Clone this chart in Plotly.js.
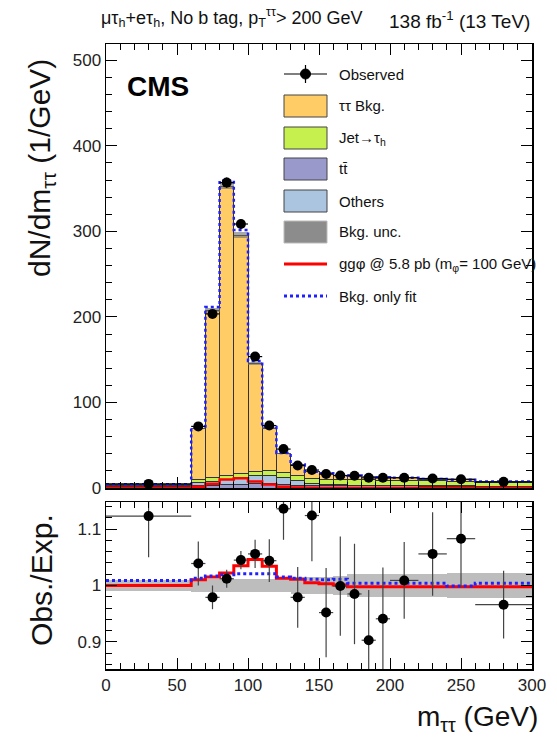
<!DOCTYPE html>
<html>
<head>
<meta charset="utf-8">
<script src="https://cdn.plot.ly/plotly-3.0.1.min.js"></script>
<style>html,body{margin:0;padding:0;background:#fff;}#chart{width:557px;height:738px;}</style>
</head>
<body>
<div id="chart"></div>
<script>
// ---- data (per GeV) ----
const edges = [0,60,70,80,90,100,110,120,130,140,150,160,170,180,190,200,220,240,260,300];
const observed = [4.8, 72, 203.5, 357, 308.6, 153.6, 73, 45.5, 26.4, 21, 16.3, 14.6, 14.3, 11.9, 11.9, 11.9, 11.1, 10.3, 7.2];
const observedErr = [0.28, 2.7, 4.5, 6.0, 5.6, 3.9, 2.7, 2.1, 1.6, 1.5, 1.3, 1.2, 1.2, 1.1, 1.1, 0.75, 0.75, 0.7, 0.42];
const tautauBkg = [0.7, 59.9, 196.1, 338.6, 278.7, 125.8, 49.6, 22.3, 12.9, 7.3, 6.6, 4.7, 4.7, 3.7, 3.3, 2.9, 2.2, 1.8, 0.65];
const jetFakes = [0.8, 3.6, 3.9, 3.9, 4.3, 4.7, 5.4, 5.5, 5.8, 6.0, 6.2, 6.3, 6.3, 6.3, 6.2, 6.0, 5.6, 5.3, 4.8];
const ttbar = [2.0, 3.0, 3.5, 4.0, 4.5, 5.0, 5.0, 4.5, 3.5, 3.0, 3.0, 2.8, 2.7, 2.6, 2.5, 2.4, 2.2, 2.0, 1.7];
const others = [0.8, 3.0, 4.5, 6.5, 8.0, 10.0, 10.0, 8.0, 5.0, 2.5, 1.2, 0.8, 0.7, 0.6, 0.6, 0.5, 0.5, 0.4, 0.3];
const bkgUncRel = [0.009, 0.011, 0.011, 0.011, 0.011, 0.011, 0.011, 0.012, 0.015, 0.015, 0.015, 0.016, 0.02, 0.02, 0.02, 0.02, 0.02, 0.023, 0.023];
const signal = [0, 1.5, 5, 10, 11.5, 7.5, 4, 1.5, 0.5, 0.2, 0, 0, 0, 0, 0, 0, 0, 0, 0];
const bkgOnlyFit = [4.35, 70.5, 211.5, 359.5, 301.5, 148.5, 71.3, 40.9, 27.6, 19.0, 17.2, 14.8, 14.5, 13.25, 12.65, 11.85, 10.55, 9.5, 7.48];
// ratio panel
const ratioObs = [1.123, 1.039, 0.979, 1.012, 1.045, 1.056, 1.044, 1.136, 0.979, 1.124, 0.952, 0.999, 0.985, 0.903, 0.941, 1.009, 1.056, 1.083, 0.966];
const ratioErr = [0.073, 0.039, 0.021, 0.016, 0.016, 0.025, 0.038, 0.055, 0.054, 0.081, 0.079, 0.088, 0.089, 0.089, 0.091, 0.068, 0.074, 0.086, 0.06];
const ratioSig = [1.0, 1.01, 1.015, 1.022, 1.035, 1.046, 1.034, 1.013, 1.011, 1.005, 1.003, 1.001, 0.998, 0.998, 0.998, 0.998, 0.998, 0.998, 0.998];
const ratioFit = [1.009, 1.013, 1.017, 1.019, 1.021, 1.021, 1.021, 1.015, 1.013, 1.011, 1.010, 1.011, 1.004, 1.004, 1.004, 1.004, 1.004, 0.999, 1.004];
const xTicks = [0, 50, 100, 150, 200, 250, 300];

// ---- derived geometry ----
const n = edges.length - 1;
const centers = [], widths = [], halfW = [];
for (let i = 0; i < n; i++) { centers.push((edges[i]+edges[i+1])/2); widths.push(edges[i+1]-edges[i]); halfW.push((edges[i+1]-edges[i])/2); }
const total = tautauBkg.map((v,i)=>v+jetFakes[i]+ttbar[i]+others[i]);
function steps(vals){ const xs=[], ys=[]; for(let i=0;i<n;i++){xs.push(edges[i]);ys.push(vals[i]);} xs.push(edges[n]); ys.push(vals[n-1]); return {x:xs,y:ys}; }

const F = "Liberation Sans Narrow, Arial Narrow, Liberation Sans, Arial, sans-serif";
const FW = "Liberation Sans, Arial, sans-serif";
const C = {tt:'#FFCC66', jet:'#C6F04E', ttbar:'#9999CC', oth:'#ABC4E0', unc:'#8C8C8C', sig:'#FF0000', fit:'#2020FF'};
const outline = {color:'#333333', width:1};

const traces = [];
function stackBar(vals, color){ return {type:'bar', x:centers, y:vals, width:widths, xaxis:'x', yaxis:'y', marker:{color:color, line:outline}, showlegend:false, hoverinfo:'skip'}; }
traces.push(stackBar(ttbar, C.ttbar));
traces.push(stackBar(others, C.oth));
traces.push(stackBar(jetFakes, C.jet));
traces.push(stackBar(tautauBkg, C.tt));
// main uncertainty band
traces.push({type:'bar', x:centers, width:widths, base: total.map((t,i)=>t*(1-bkgUncRel[i])), y: total.map((t,i)=>2*t*bkgUncRel[i]), xaxis:'x', yaxis:'y', marker:{color:'rgba(110,110,110,0.6)', line:{width:0}}, showlegend:false});
const fitStep = steps(bkgOnlyFit);
traces.push({type:'scatter', mode:'lines', x:fitStep.x, y:fitStep.y, line:{shape:'hv', color:C.fit, width:2.5, dash:'dot'}, xaxis:'x', yaxis:'y', showlegend:false});
const sigStep = steps(signal);
traces.push({type:'scatter', mode:'lines', x:sigStep.x, y:sigStep.y, line:{shape:'hv', color:C.sig, width:2.5}, xaxis:'x', yaxis:'y', showlegend:false, cliponaxis:false});
traces.push({type:'scatter', mode:'markers', x:centers, y:observed, marker:{color:'#000', size:10}, error_y:{type:'data', array:observedErr, color:'#000', thickness:1.2, width:0}, error_x:{type:'data', array:halfW, color:'#000', thickness:1.2, width:0}, xaxis:'x', yaxis:'y', showlegend:false});

// ratio panel
traces.push({type:'bar', x:centers, width:widths, base: bkgUncRel.map(u=>1-u), y: bkgUncRel.map(u=>2*u), xaxis:'x2', yaxis:'y2', marker:{color:'#BDBDBD', line:{width:0}}, showlegend:false});
const rs = steps(ratioSig), rf = steps(ratioFit);
traces.push({type:'scatter', mode:'lines', x:rs.x, y:rs.y, line:{shape:'hv', color:C.sig, width:3}, xaxis:'x2', yaxis:'y2', showlegend:false});
traces.push({type:'scatter', mode:'lines', x:rf.x, y:rf.y, line:{shape:'hv', color:C.fit, width:3, dash:'dot'}, xaxis:'x2', yaxis:'y2', showlegend:false});
traces.push({type:'scatter', mode:'markers', x:centers, y:ratioObs, marker:{color:'#000', size:10}, error_y:{type:'data', array:ratioErr, color:'#444', thickness:1.2, width:0}, error_x:{type:'data', array:halfW, color:'#444', thickness:1.2, width:0}, xaxis:'x2', yaxis:'y2', showlegend:false});

// ---- layout helpers (pixel -> paper) ----
const L=106, R=532, T=44, B=669;
const px = v => (v-L)/(R-L), py = v => (B-v)/(B-T);

const axCommon = {showline:true, linecolor:'#000', linewidth:1.5, mirror:'allticks', ticks:'inside', ticklen:11, tickcolor:'#000', tickwidth:1, showgrid:false, zeroline:false, tickfont:{family:F, size:17, color:'#222'}};
const layout = {
  width:557, height:738, paper_bgcolor:'#fff', plot_bgcolor:'#fff',
  margin:{l:L, r:557-R, t:T, b:738-B}, barmode:'stack', bargap:0, showlegend:false,
  xaxis: Object.assign({}, axCommon, {domain:[0,1], anchor:'y', range:[0,300], tickvals:xTicks, showticklabels:false, minor:{dtick:10, ticklen:6, ticks:'inside', tickcolor:'#000'}}),
  yaxis: Object.assign({}, axCommon, {domain:[py(488),1], anchor:'x', range:[0,519], dtick:100, minor:{dtick:20, ticklen:6, ticks:'inside', tickcolor:'#000'}}),
  xaxis2: Object.assign({}, axCommon, {domain:[0,1], anchor:'y2', range:[0,300], tickvals:xTicks, ticktext:xTicks.map(String), minor:{dtick:10, ticklen:6, ticks:'inside', tickcolor:'#000'}}),
  yaxis2: Object.assign({}, axCommon, {domain:[0,py(502)], anchor:'x2', range:[0.852,1.148], tickvals:[0.9,1,1.1], ticktext:['0.9','1','1.1'], minor:{dtick:0.02, ticklen:6, ticks:'inside', tickcolor:'#000'}}),
  shapes:[], annotations:[]
};

// legend (manual, ROOT style)
const legX0 = 284, legX1 = 327, legText = 337;
const legRows = [
  {y:74, kind:'obs', text:'Observed'},
  {y:106, kind:'box', color:C.tt, text:'ττ Bkg.'},
  {y:138, kind:'box', color:C.jet, text:'Jet→τ<sub>h</sub>'},
  {y:169, kind:'box', color:C.ttbar, text:'tt\u0304'},
  {y:201, kind:'box', color:C.oth, text:'Others'},
  {y:232, kind:'unc', color:C.unc, text:'Bkg. unc.'},
  {y:264, kind:'line', color:C.sig, dash:'solid', text:'ggφ @ 5.8 pb (m<sub>φ</sub>= 100 GeV)'},
  {y:296, kind:'line', color:C.fit, dash:'dot', text:'Bkg. only fit'}
];
legRows.forEach(r=>{
  if (r.kind==='box' || r.kind==='unc') {
    layout.shapes.push({type:'rect', xref:'paper', yref:'paper', x0:px(legX0), x1:px(legX1), y0:py(r.y+11), y1:py(r.y-11), fillcolor:r.color, line:{color: r.kind==='unc' ? '#BBBBBB' : '#444', width:1}});
  } else if (r.kind==='line') {
    layout.shapes.push({type:'line', xref:'paper', yref:'paper', x0:px(legX0), x1:px(legX1), y0:py(r.y), y1:py(r.y), line:{color:r.color, width:3, dash:r.dash}});
  } else {
    layout.shapes.push({type:'line', xref:'paper', yref:'paper', x0:px(legX0), x1:px(legX1), y0:py(r.y), y1:py(r.y), line:{color:'#000', width:1.2}});
    layout.shapes.push({type:'line', xref:'paper', yref:'paper', x0:px(305.5), x1:px(305.5), y0:py(r.y-9), y1:py(r.y+9), line:{color:'#000', width:1.2}});
    layout.shapes.push({type:'circle', xref:'paper', yref:'paper', x0:px(300.5), x1:px(310.5), y0:py(r.y+5), y1:py(r.y-5), fillcolor:'#000', line:{color:'#000', width:1}});
  }
  layout.annotations.push({xref:'paper', yref:'paper', x:px(legText), y:py(r.y), xanchor:'left', yanchor:'middle', text:r.text, showarrow:false, font:{family:F, size:15, color:'#111'}});
});

// texts
layout.annotations.push({xref:'paper', yref:'paper', x:px(125), y:py(86), xanchor:'left', yanchor:'middle', text:'<b>CMS</b>', showarrow:false, font:{family:FW, size:28, color:'#000'}});
layout.annotations.push({xref:'paper', yref:'paper', x:px(99), y:py(18), xanchor:'left', yanchor:'middle', text:'μτ<sub>h</sub>+eτ<sub>h</sub>, No b tag, p<sub>T</sub><sup>ττ</sup>> 200 GeV', showarrow:false, font:{family:F, size:18, color:'#111'}});
layout.annotations.push({xref:'paper', yref:'paper', x:px(532), y:py(20), xanchor:'right', yanchor:'middle', text:'138 fb<sup>-1</sup> (13 TeV)', showarrow:false, font:{family:F, size:19, color:'#111'}});
layout.annotations.push({xref:'paper', yref:'paper', x:px(41), y:py(168), xanchor:'center', yanchor:'middle', textangle:-90, text:'dN/dm<sub>ττ</sub> (1/GeV)', showarrow:false, font:{family:FW, size:30, color:'#111'}});
layout.annotations.push({xref:'paper', yref:'paper', x:px(41), y:py(580), xanchor:'center', yanchor:'middle', textangle:-90, text:'Obs./Exp.', showarrow:false, font:{family:FW, size:30, color:'#111'}});
layout.annotations.push({xref:'paper', yref:'paper', x:px(540), y:py(718), xanchor:'right', yanchor:'middle', text:'m<sub>ττ</sub> (GeV)', showarrow:false, font:{family:FW, size:28, color:'#111'}});

Plotly.newPlot('chart', traces, layout, {staticPlot:true, displayModeBar:false});
</script>
</body>
</html>
